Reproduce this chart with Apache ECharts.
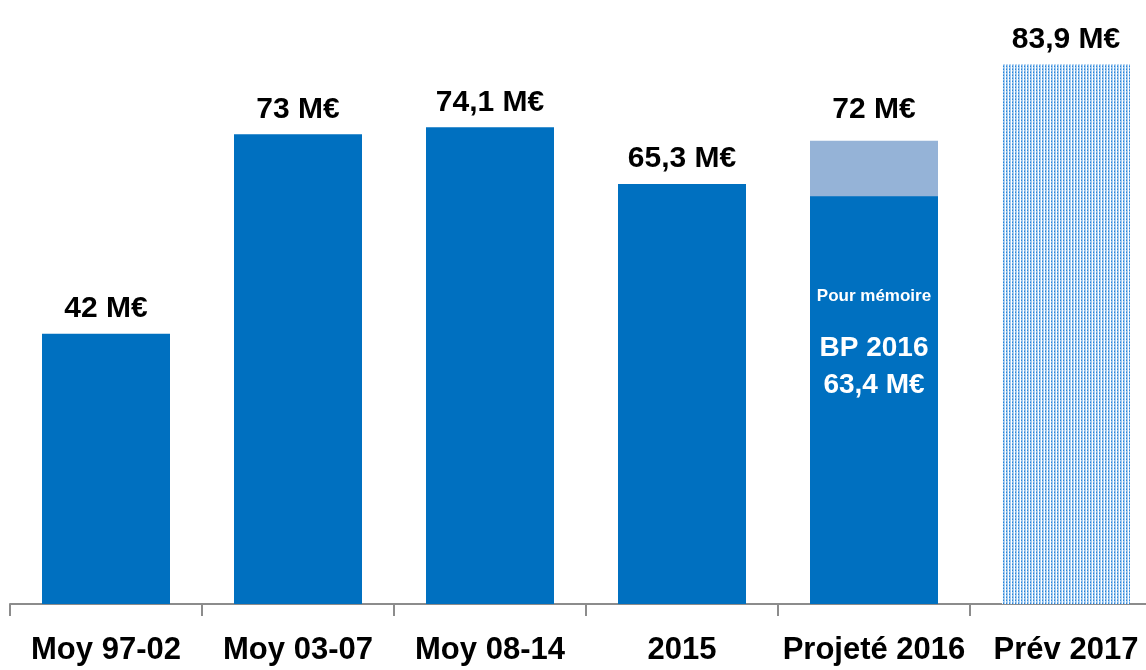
<!DOCTYPE html>
<html>
<head>
<meta charset="utf-8">
<script src="https://cdn.jsdelivr.net/npm/echarts@6/dist/echarts.min.js"></script>
<style>
  html, body { margin: 0; padding: 0; background: #fff; }
  #chart { width: 1146px; height: 670px; }
</style>
</head>
<body>
<div id="chart"></div>
<script>
// values in M€
const categories = ['Moy 97-02', 'Moy 03-07', 'Moy 08-14', '2015', 'Projeté 2016', 'Prév 2017'];
const realised = [42, 73, 74.1, 65.3, 63.4, null];   // 63,4 = BP 2016 (pour mémoire)
const projected = [null, null, null, null, 72, null];
const forecast = [null, null, null, null, null, 83.9];

const FONT = "'Liberation Sans', Arial, sans-serif";

function fmt(v) {
    return String(v).replace('.', ',') + ' M€';
}

// dotted fill for the forecast bar
function dotPattern() {
    const c = document.createElement('canvas');
    c.width = 3; c.height = 3;
    const ctx = c.getContext('2d');
    ctx.fillStyle = '#ffffff';
    ctx.fillRect(0, 0, 3, 3);
    ctx.fillStyle = '#a6cdf0';
    ctx.fillRect(2, 0, 1, 3);
    ctx.fillRect(1, 1, 1, 1);
    ctx.fillStyle = '#2a84d8';
    ctx.fillRect(1, 0, 1, 1);
    ctx.fillStyle = '#6aaae6';
    ctx.fillRect(1, 2, 1, 1);
    return c;
}

const topLabel = {
    show: true,
    position: 'top',
    distance: 10,
    fontFamily: FONT,
    fontWeight: 'bold',
    fontSize: 30,
    color: '#000',
    formatter: p => fmt(p.value)
};

const realisedData = realised.map((v, i) => {
    if (i === 4) {
        return {
            value: v,
            label: {
                show: true,
                position: ['50%', 67],
                align: 'center',
                verticalAlign: 'top',
                fontFamily: FONT,
                fontWeight: 'bold',
                color: '#fff',
                formatter: '{a|Pour mémoire}\n{b|BP 2016}\n{b|' + fmt(v) + '}',
                rich: {
                    a: { fontFamily: FONT, fontWeight: 'bold', fontSize: 17, lineHeight: 67, color: '#fff' },
                    b: { fontFamily: FONT, fontWeight: 'bold', fontSize: 28, lineHeight: 37, color: '#fff' }
                }
            }
        };
    }
    return v;
});

const myChart = echarts.init(document.getElementById('chart'));
const option = {
    animation: false,
    grid: { left: 10, width: 1152, top: 25, bottom: 66, outerBoundsMode: 'none', containLabel: false },
    xAxis: {
        type: 'category',
        data: categories,
        axisLine: { show: true, lineStyle: { color: '#8c8c8c', width: 2 } },
        axisTick: { show: true, length: 12, lineStyle: { color: '#8c8c8c', width: 2 } },
        axisLabel: {
            interval: 0,
            margin: 31,
            fontFamily: FONT,
            fontWeight: 'bold',
            fontSize: 31,
            color: '#000'
        }
    },
    yAxis: {
        type: 'value',
        min: 0,
        max: 90,
        show: false,
        splitLine: { show: false }
    },
    series: [
        {
            name: 'Projeté',
            type: 'bar',
            barWidth: 128,
            barGap: '-100%',
            data: projected,
            itemStyle: { color: '#95b3d7' },
            label: Object.assign({}, topLabel, { distance: 16 })
        },
        {
            name: 'Réalisé',
            type: 'bar',
            barWidth: 128,
            barGap: '-100%',
            data: realisedData,
            itemStyle: { color: '#0070c0' },
            label: topLabel
        },
        {
            name: 'Prévision',
            type: 'bar',
            barWidth: 128,
            barGap: '-100%',
            data: forecast,
            itemStyle: { color: { image: dotPattern(), repeat: 'repeat' } },
            label: topLabel
        }
    ]
};
myChart.setOption(option);
</script>
</body>
</html>
